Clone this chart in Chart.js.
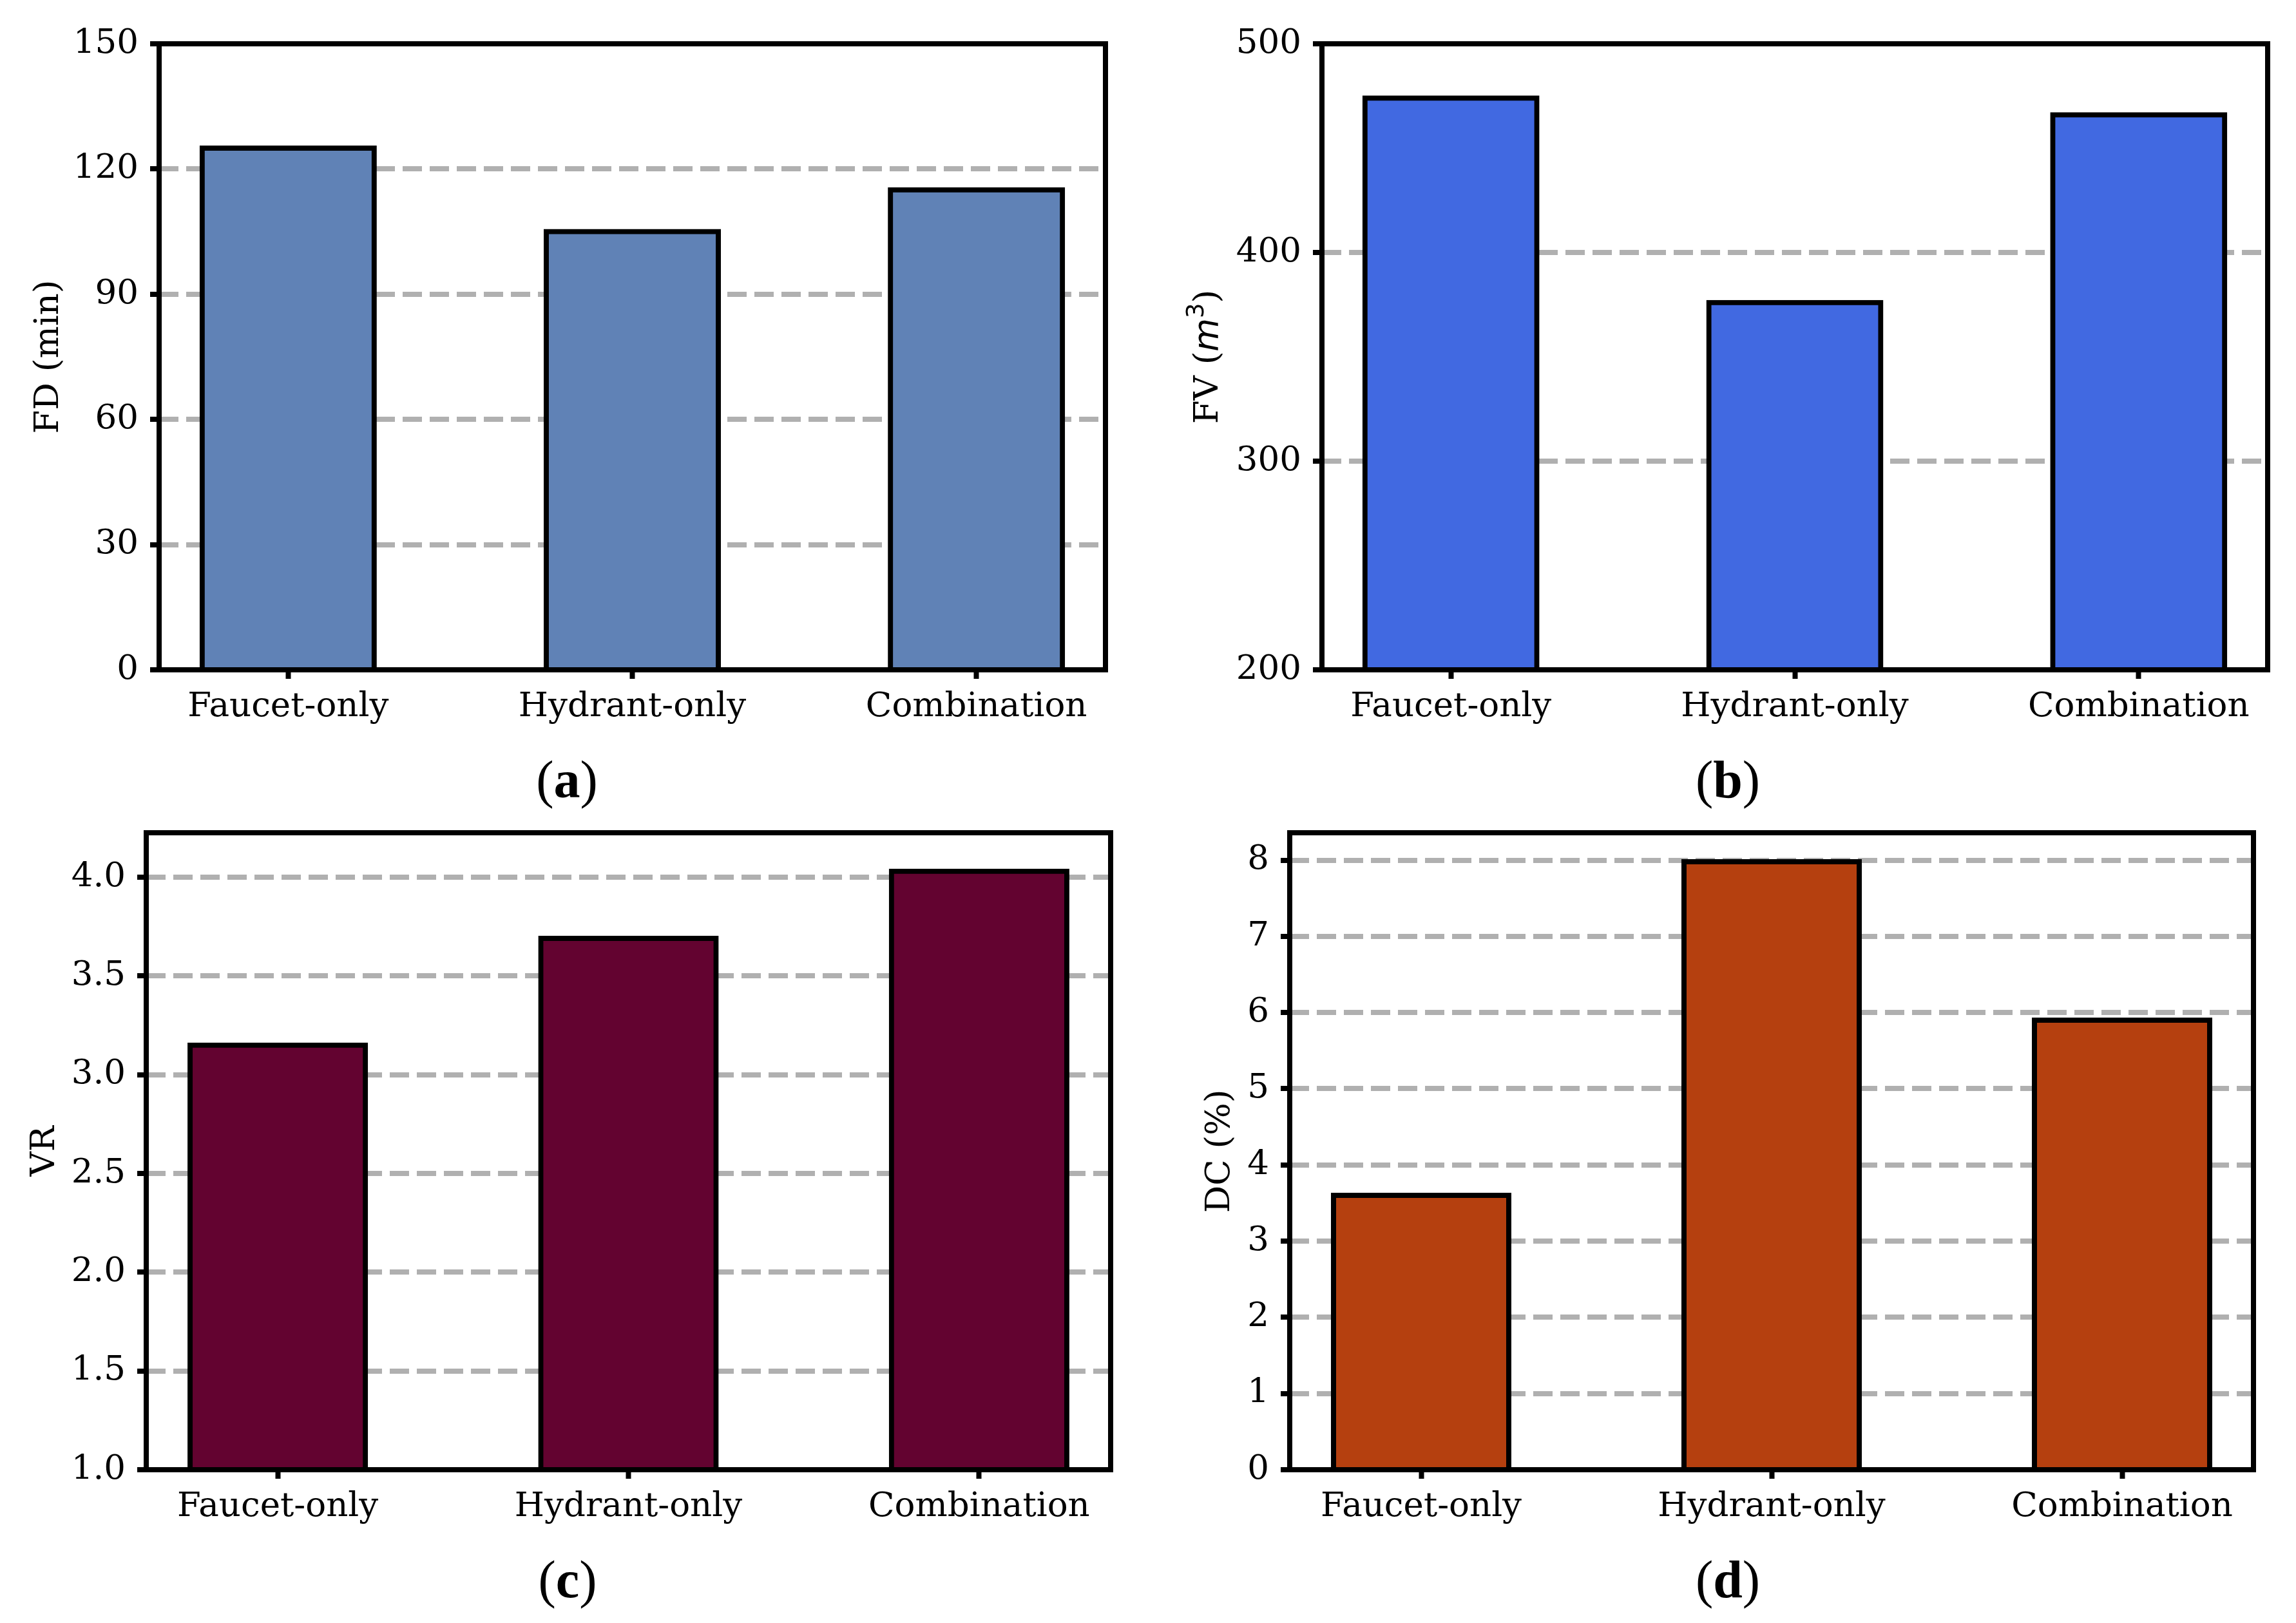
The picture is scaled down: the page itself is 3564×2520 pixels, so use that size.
<!DOCTYPE html>
<html>
<head>
<meta charset="utf-8">
<script src="https://cdn.jsdelivr.net/npm/chart.js@4.4.0/dist/chart.umd.min.js"></script>
<style>
html, body { margin: 0; padding: 0; background: #fff; }
#fig { position: relative; width: 3564px; height: 2520px; background: #fff; }
.panel { position: absolute; width: 1782px; height: 1260px; }
</style>
</head>
<body>
<div id="fig">
  <div class="panel" style="left:0;top:0"><canvas id="chartA"></canvas></div>
  <div class="panel" style="left:1782px;top:0"><canvas id="chartB"></canvas></div>
  <div class="panel" style="left:0;top:1260px"><canvas id="chartC"></canvas></div>
  <div class="panel" style="left:1782px;top:1260px"><canvas id="chartD"></canvas></div>
</div>
<script>
// data
const categories = ['Faucet-only', 'Hydrant-only', 'Combination'];
const fdValues = [125, 105, 115];        // FD (min)
const fvValues = [474, 376, 466];        // FV (m3)
const vrValues = [3.15, 3.69, 4.03];     // VR
const dcValues = [3.6, 7.98, 5.9];       // DC (%)

const fdTicks = [0, 30, 60, 90, 120, 150];
const fvTicks = [200, 300, 400, 500];
const vrTicks = [1.0, 1.5, 2.0, 2.5, 3.0, 3.5, 4.0];
const dcTicks = [0, 1, 2, 3, 4, 5, 6, 7, 8];

const W = 1782, H = 1260, X_H = 150, PAD_L = 20;
const SERIF = "'DejaVu Serif'";

Chart.defaults.font.family = SERIF;
Chart.defaults.font.size = 53;
Chart.defaults.color = '#000';

// matplotlib-like box around the axes
const frame = {
    id: 'frame',
    afterDatasetsDraw(chart) {
        const {ctx, chartArea: a} = chart;
        ctx.save();
        ctx.lineWidth = 8;
        ctx.strokeStyle = '#000';
        ctx.strokeRect(a.left, a.top, a.right - a.left, a.bottom - a.top);
        ctx.restore();
    }
};

// draws a list of text pieces, each with its own font
function drawParts(ctx, parts, x, y) {
    let total = 0;
    parts.forEach(p => { ctx.font = p.font; p.w = ctx.measureText(p.text).width; total += p.w; });
    let cx = x - total / 2;
    parts.forEach(p => {
        ctx.font = p.font;
        ctx.fillText(p.text, cx, y - (p.rise || 0));
        cx += p.w;
    });
}

function yTitle(p) {
    return {
        id: 'yTitle',
        afterDraw(chart) {
            const {ctx, chartArea: a} = chart;
            ctx.save();
            ctx.fillStyle = '#000';
            ctx.textBaseline = 'alphabetic';
            ctx.textAlign = 'left';
            ctx.translate(a.left + p.titleOffset, (a.top + a.bottom) / 2);
            ctx.rotate(-Math.PI / 2);
            drawParts(ctx, p.title, 0, 0);
            ctx.restore();
        }
    };
}

function panelLabel(p) {
    return {
        id: 'panelLabel',
        afterDraw(chart) {
            const ctx = chart.ctx;
            const reg = "82px 'Liberation Serif'";
            const bold = "bold 82px 'Liberation Serif'";
            ctx.save();
            ctx.fillStyle = '#000';
            ctx.textBaseline = 'alphabetic';
            ctx.textAlign = 'left';
            drawParts(ctx, [
                {text: '(', font: reg},
                {text: p.letter, font: bold},
                {text: ')', font: reg}
            ], p.labelPos[0], p.labelPos[1]);
            ctx.restore();
        }
    };
}

const plain = t => [{text: t, font: "53px " + SERIF}];

const panels = [
    { id: 'chartA', values: fdValues, ticks: fdTicks, yMin: 0, yMax: 150, color: '#6082B6',
      fmt: v => String(v), title: plain('FD (min)'), titleOffset: -157, letter: 'a',
      area: {left: 247, top: 68, right: 1716, bottom: 1040}, labelPos: [880, 1238] },
    { id: 'chartB', values: fvValues, ticks: fvTicks, yMin: 200, yMax: 500, color: '#4169E1',
      fmt: v => String(v),
      title: [
          {text: 'FV (', font: "53px " + SERIF},
          {text: 'm', font: "italic 53px 'DejaVu Sans'"},
          {text: '3', font: "37px 'DejaVu Sans'", rise: 22},
          {text: ')', font: "53px " + SERIF}
      ],
      titleOffset: -162, letter: 'b',
      area: {left: 270, top: 68, right: 1738, bottom: 1040}, labelPos: [900, 1238] },
    { id: 'chartC', values: vrValues, ticks: vrTicks, yMin: 1.0, yMax: 4.225, color: '#630330',
      fmt: v => v.toFixed(1), title: plain('VR'), titleOffset: -143, letter: 'c',
      area: {left: 227, top: 33, right: 1724, bottom: 1022}, labelPos: [881, 1220] },
    { id: 'chartD', values: dcValues, ticks: dcTicks, yMin: 0, yMax: 8.36, color: '#B5400F',
      fmt: v => String(v), title: plain('DC (%)'), titleOffset: -94, letter: 'd',
      area: {left: 220, top: 33, right: 1716, bottom: 1022}, labelPos: [900, 1220] }
];

function makeChart(p) {
    new Chart(document.getElementById(p.id), {
        type: 'bar',
        data: {
            datasets: [{
                data: p.values.map((v, i) => ({x: i, y: v})),
                backgroundColor: p.color,
                borderColor: '#000',
                borderWidth: 8,
                borderSkipped: 'start',
                inflateAmount: 4,
                barPercentage: 0.5,
                categoryPercentage: 1
            }]
        },
        options: {
            responsive: true,
            maintainAspectRatio: false,
            animation: false,
            devicePixelRatio: 1,
            layout: {
                padding: {
                    left: PAD_L,
                    top: p.area.top,
                    right: W - p.area.right,
                    bottom: H - p.area.bottom - X_H
                }
            },
            plugins: { legend: {display: false}, tooltip: {enabled: false} },
            scales: {
                x: {
                    type: 'linear',
                    offset: false,
                    min: -0.375,
                    max: categories.length - 1 + 0.375,
                    afterBuildTicks: s => { s.ticks = categories.map((c, i) => ({value: i})); },
                    afterFit: s => { s.height = X_H; s.paddingLeft = 0; s.paddingRight = 0; },
                    ticks: { callback: v => categories[v], padding: 12, maxRotation: 0, autoSkip: false },
                    grid: { offset: false, drawOnChartArea: false, tickLength: 14, tickWidth: 8, tickColor: '#000' },
                    border: { display: false }
                },
                y: {
                    min: p.yMin,
                    max: p.yMax,
                    afterBuildTicks: s => { s.ticks = p.ticks.map(v => ({value: v})); },
                    afterFit: s => { s.width = p.area.left - PAD_L; s.paddingTop = 0; s.paddingBottom = 0; },
                    ticks: { callback: v => p.fmt(v), padding: 18, autoSkip: false },
                    grid: { color: '#b0b0b0', lineWidth: 8, tickLength: 14, tickWidth: 8, tickColor: '#000', tickBorderDash: [] },
                    border: { display: false, dash: [30, 12] }
                }
            }
        },
        plugins: [frame, yTitle(p), panelLabel(p)]
    });
}

panels.forEach(makeChart);
</script>
</body>
</html>
